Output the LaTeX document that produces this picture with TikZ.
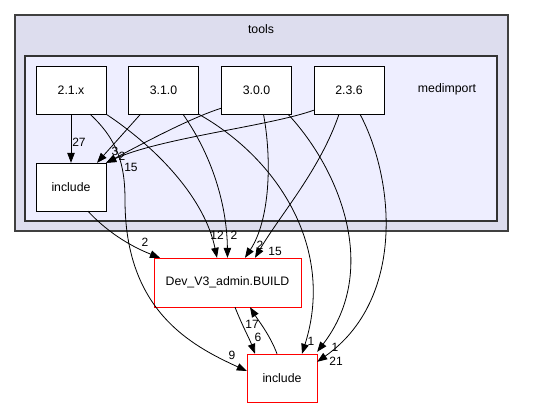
\documentclass[tikz,border=0pt]{standalone}
\usepackage{fontspec}
\setmainfont{Liberation Sans}
\usetikzlibrary{positioning,arrows.meta}
\definecolor{toolsfill}{HTML}{DDDDEE}
\definecolor{medfill}{HTML}{EEEEFF}
\definecolor{clusterline}{HTML}{404040}

\begin{document}
\begin{tikzpicture}[x = 1pt, y = -1pt, > = {Triangle[length=10pt, width=7.5pt]},
font = \fontsize{12.3}{14}\selectfont,
outer/.style={ rectangle, draw = clusterline, line width = 1.4pt, fill = toolsfill },
inner/.style={ rectangle, draw = black!80, line width = 1.2pt, fill = medfill },
dir/.style={ rectangle, draw, fill = white, minimum width = 70pt, minimum height = 48pt },
ext/.style={ rectangle, draw = red, fill = white, minimum width = 70pt, minimum height = 48pt },
dep/.style={ ->, line width = 0.8pt },
lbl/.style={ inner sep = 0pt, font = \fontsize{12}{13}\selectfont }
]
\useasboundingbox (0,0) rectangle (541,408);
%clusters
\node (tools) at (261.5,123) [outer, minimum width = 493pt, minimum height = 216pt] {};
\node (toolslbl) at (261,29) {tools};
\node (medimport) at (261,138.5) [inner, minimum width = 472pt, minimum height = 165pt] {};
\node (medlbl) at (447,89) {medimport};

%create the nodes
\node (v21x) at (71,90) [dir] {2.1.x};
\node (v310) at (163.5,90) [dir] {3.1.0};
\node (v300) at (256.5,90) [dir] {3.0.0};
\node (v236) at (349,90) [dir] {2.3.6};
\node (inc) at (71,187) [dir] {include};
\node (dev) at (227.5,282.5) [ext, minimum width = 147pt, minimum height = 49pt] {Dev\_V3\_admin.BUILD};
\node (incb) at (282,378) [ext] {include};

%link them with arrows
\draw [dep] (v21x) -- (inc);
\draw [dep] ([xshift=-23pt]v310.south) -- ([xshift=26pt]inc.north);
\draw [dep] ([yshift=6pt]v300.south west) .. controls (190,118) and (140,145) .. (inc.north east);
\draw [dep] ([yshift=4pt]v236.south west) .. controls (270,126) and (160,138) .. (inc.north east);
\draw [dep] ([xshift=19pt]v21x.south) .. controls (118,140) and (125,165) .. (125,200)
	.. controls (125,310) and (190,345) .. ([yshift=7pt]incb.west);
\draw [dep] (v21x.south east) .. controls (160,150) and (205,200) .. ([xshift=-10.5pt]dev.north);
\draw [dep] ([xshift=19.5pt]v310.south) .. controls (215,160) and (227,210) .. (dev.north);
\draw [dep] (v310.south east) .. controls (280,160) and (335,250) .. ([xshift=20pt]incb.north);
\draw [dep] ([xshift=7pt]v300.south) .. controls (272,160) and (270,220) .. ([xshift=17.5pt]dev.north);
\draw [dep] ([xshift=31.5pt]v300.south) .. controls (340,170) and (380,270) .. ([yshift=2pt]incb.north east);
\draw [dep] ([xshift=-10pt]v236.south) .. controls (320,170) and (280,215) .. ([xshift=27.5pt]dev.north);
\draw [dep] ([xshift=11pt]v236.south) .. controls (395,180) and (405,300) .. ([yshift=-8pt]incb.north east);
\draw [dep] ([xshift=17pt]inc.south) .. controls (110,235) and (135,248) .. ([xshift=-67.5pt]dev.north);
\draw [dep] ([xshift=7.5pt]dev.south) .. controls (242,325) and (250,340) .. ([xshift=-27pt]incb.north);
\draw [dep] ([xshift=-5pt]incb.north) .. controls (270,335) and (258,320) .. ([xshift=22.5pt]dev.south);

%edge labels
\node (l27) at (79,142) [lbl] {27};
\node (l3) at (115,151) [lbl] {3};
\node (l2a) at (122,156) [lbl] {2};
\node (l15a) at (131,167) [lbl] {15};
\node (l9) at (232,355) [lbl] {9};
\node (l2b) at (145,242) [lbl] {2};
\node (l12) at (217,235) [lbl] {12};
\node (l2c) at (234,235) [lbl] {2};
\node (l2d) at (260,245) [lbl] {2};
\node (l15b) at (275,251) [lbl] {15};
\node (l17) at (252,324) [lbl] {17};
\node (l6) at (258,337) [lbl] {6};
\node (l1a) at (311,341) [lbl] {1};
\node (l1b) at (335,347) [lbl] {1};
\node (l21) at (336,361) [lbl] {21};
\end{tikzpicture}
\end{document}
